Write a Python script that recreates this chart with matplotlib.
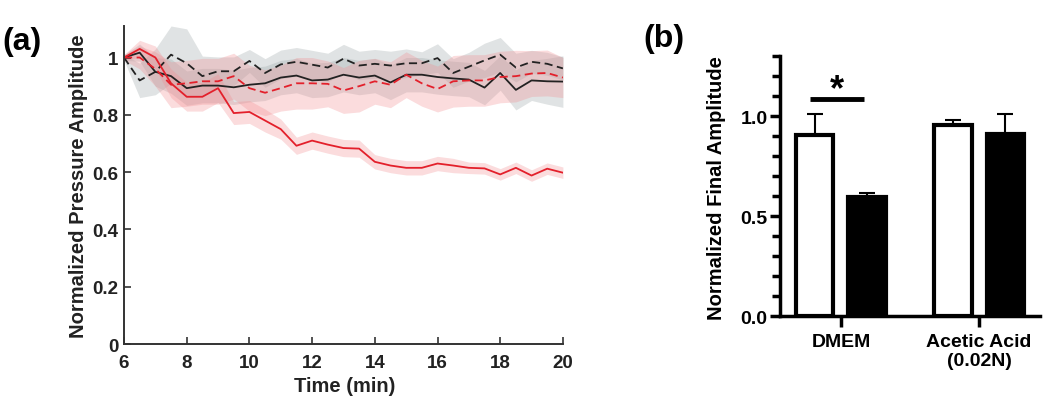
import matplotlib
matplotlib.use("Agg")
import matplotlib.pyplot as plt
import numpy as np

plt.rcParams['font.family'] = ['Liberation Sans', 'DejaVu Sans']
plt.rcParams['font.weight'] = 'bold'

# panel (a): normalized pressure amplitude over time
time_min = [6.0, 6.5, 7.0, 7.5, 8.0, 8.5, 9.0, 9.5, 10.0, 10.5, 11.0, 11.5, 12.0, 12.5,
            13.0, 13.5, 14.0, 14.5, 15.0, 15.5, 16.0, 16.5, 17.0, 17.5, 18.0, 18.5,
            19.0, 19.5, 20.0]

black_solid = [1.0, 1.017, 0.95, 0.935, 0.893, 0.902, 0.902, 0.896, 0.905, 0.91, 0.93,
               0.937, 0.92, 0.923, 0.94, 0.93, 0.937, 0.913, 0.94, 0.94, 0.932, 0.927,
               0.923, 0.895, 0.946, 0.887, 0.92, 0.917, 0.916]
black_solid_err = [0.01, 0.03, 0.05, 0.06, 0.06, 0.06, 0.06, 0.06, 0.06, 0.06, 0.06, 0.06,
                   0.06, 0.06, 0.06, 0.06, 0.06, 0.06, 0.06, 0.06, 0.06, 0.06, 0.06, 0.06,
                   0.06, 0.07, 0.07, 0.08, 0.09]

black_dash = [1.0, 0.92, 0.95, 1.01, 0.98, 0.935, 0.952, 0.952, 0.988, 0.946, 0.976,
              0.985, 0.975, 0.965, 0.996, 0.972, 0.978, 0.972, 0.98, 0.98, 0.998, 0.946,
              0.968, 0.99, 1.01, 0.965, 0.985, 0.978, 0.962]
black_dash_err = [0.01, 0.06, 0.08, 0.10, 0.12, 0.07, 0.05, 0.05, 0.04, 0.05, 0.05, 0.05,
                  0.05, 0.05, 0.05, 0.05, 0.05, 0.05, 0.05, 0.04, 0.05, 0.05, 0.05, 0.06,
                  0.06, 0.05, 0.04, 0.04, 0.04]

red_solid = [1.0, 1.03, 1.0, 0.91, 0.863, 0.863, 0.893, 0.806, 0.81, 0.78, 0.75, 0.692,
             0.71, 0.696, 0.684, 0.682, 0.636, 0.623, 0.615, 0.615, 0.63, 0.623, 0.615,
             0.613, 0.592, 0.615, 0.588, 0.612, 0.598]
red_solid_err = [0.01, 0.03, 0.04, 0.05, 0.05, 0.05, 0.05, 0.04, 0.04, 0.04, 0.035,
                 0.03, 0.03, 0.03, 0.03, 0.03, 0.025, 0.025, 0.025, 0.025, 0.025, 0.025,
                 0.02, 0.02, 0.02, 0.02, 0.02, 0.02, 0.02]

red_dash = [1.0, 1.0, 0.96, 0.905, 0.91, 0.917, 0.917, 0.935, 0.893, 0.877, 0.893, 0.91,
            0.91, 0.908, 0.885, 0.9, 0.917, 0.905, 0.94, 0.91, 0.89, 0.917, 0.92, 0.92,
            0.932, 0.935, 0.944, 0.946, 0.93]
red_dash_err = [0.01, 0.04, 0.06, 0.08, 0.08, 0.08, 0.08, 0.08, 0.08, 0.08, 0.08, 0.09,
                0.09, 0.08, 0.08, 0.09, 0.08, 0.08, 0.08, 0.08, 0.08, 0.09, 0.09, 0.09,
                0.09, 0.09, 0.08, 0.08, 0.07]

# panel (b): normalized final amplitude
groups = ['DMEM', 'Acetic Acid\n(0.02N)']
open_means = [0.905, 0.957]
open_errs = [0.104, 0.025]
filled_means = [0.593, 0.912]
filled_errs = [0.02, 0.097]

RED = '#e3202b'
PINK = '#f28b8f'
GREY = '#9aa5a6'

fig = plt.figure(figsize=(10.5, 4.06), dpi=100)

# ---- (a) ----
ax = fig.add_axes([0.1181, 0.1502, 0.418, 0.7833])
t = np.array(time_min)
for mean, err, col in [(black_dash, black_dash_err, GREY),
                       (black_solid, black_solid_err, GREY),
                       (red_dash, red_dash_err, PINK),
                       (red_solid, red_solid_err, PINK)]:
    m, e = np.array(mean), np.array(err)
    ax.fill_between(t, m - e, m + e, color=col, alpha=0.3, linewidth=0)

ax.plot(t, black_dash, color='#222222', lw=1.3, ls=(0, (4.5, 2.5)))
ax.plot(t, black_solid, color='#222222', lw=1.3)
ax.plot(t, red_dash, color=RED, lw=1.3, ls=(0, (4.5, 2.5)))
ax.plot(t, red_solid, color=RED, lw=1.3)

ax.set_xlim(6, 20)
ax.set_ylim(0, 1.11)
ax.set_xticks([6, 8, 10, 12, 14, 16, 18, 20])
ax.set_yticks([0, 0.2, 0.4, 0.6, 0.8, 1.0])
ax.set_yticklabels(['0', '0.2', '0.4', '0.6', '0.8', '1'])
for s in ['top', 'right']:
    ax.spines[s].set_visible(False)
for s in ['left', 'bottom']:
    ax.spines[s].set_color('#333333')
    ax.spines[s].set_linewidth(1.4)
ax.tick_params(direction='in', length=5, width=1.2, colors='#333333',
               labelcolor='#222222', labelsize=13.5)
ax.tick_params(axis='x', pad=7)
ax.tick_params(axis='y', pad=4)
ax.set_xlabel('Time (min)', fontsize=14.5, fontweight='bold', color='#222222')
ax.xaxis.set_label_coords(0.503, -0.1)
ax.set_ylabel('Normalized Pressure Amplitude', fontsize=14.5, fontweight='bold',
              color='#222222')
ax.yaxis.set_label_coords(-0.082, 0.5)

fig.text(22 / 1050, 1 - 42 / 406, '(a)', fontsize=23, fontweight='bold',
         ha='center', va='center')

# ---- (b) ----
bx = fig.add_axes([0.7429, 0.2192, 0.2476, 0.640])
x = np.arange(len(groups))
off = 0.19
w = 0.27
bx.bar(x - off, open_means, w, color='white', edgecolor='black', linewidth=3,
       zorder=2)
bx.bar(x + off, filled_means, w, color='black', edgecolor='black', linewidth=3,
       zorder=2)
bx.errorbar(x - off, open_means, yerr=[np.zeros(2), open_errs], fmt='none',
            ecolor='black', elinewidth=1.5, capsize=6, capthick=1.5, zorder=1)
bx.errorbar(x + off, filled_means, yerr=[np.zeros(2), filled_errs], fmt='none',
            ecolor='black', elinewidth=1.5, capsize=6, capthick=1.5, zorder=1)

# significance marker
bx.plot([-0.22, 0.17], [1.085, 1.085], color='black', lw=3.5,
        solid_capstyle='butt')
bx.text(-0.03, 1.13, '*', fontsize=26, fontweight='bold', ha='center',
        va='center')

bx.set_xlim(-0.44, 1.44)
bx.set_ylim(0, 1.3)
bx.set_yticks([0.0, 0.5, 1.0])
bx.set_yticklabels(['0.0', '0.5', '1.0'])
bx.set_yticks(np.arange(0, 1.31, 0.1), minor=True)
bx.set_xticks(x)
bx.set_xticklabels(groups)
for s in ['top', 'right']:
    bx.spines[s].set_visible(False)
for s in ['left', 'bottom']:
    bx.spines[s].set_linewidth(2.5)
bx.tick_params(axis='y', which='major', length=7, width=2.5, labelsize=14,
               pad=2)
bx.tick_params(axis='y', which='minor', length=6, width=2.5)
bx.tick_params(axis='x', length=8, width=2.5, labelsize=14, pad=4)
bx.set_ylabel('Normalized Final Amplitude', fontsize=14.5, fontweight='bold')
bx.yaxis.set_label_coords(-0.208, 0.496)

fig.text(664 / 1050, 1 - 39 / 406, '(b)', fontsize=23, fontweight='bold',
         ha='center', va='center')

fig.savefig('out.png', dpi=100)
